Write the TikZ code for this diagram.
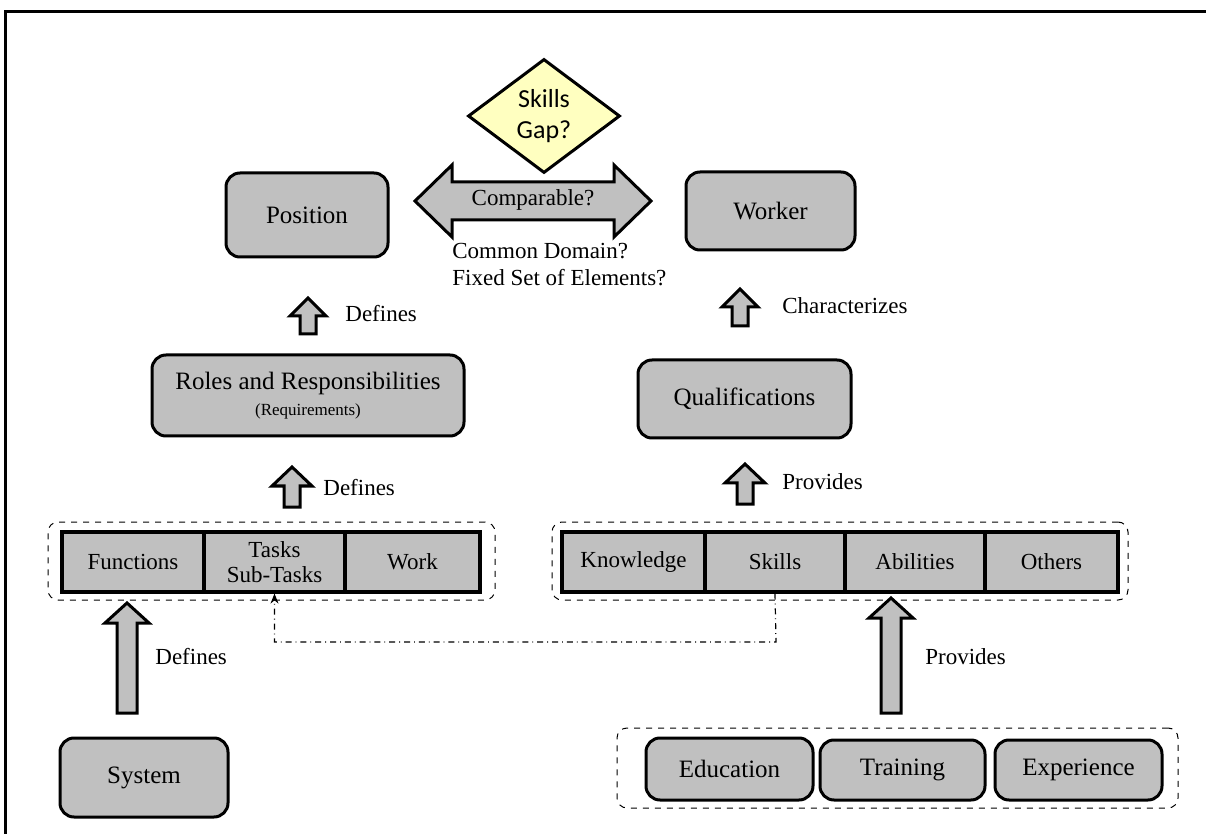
\documentclass[tikz,border=0pt]{standalone}
\usepackage{fontspec}
\setmainfont{Liberation Serif}
\newfontfamily\sansf{Carlito}
\usetikzlibrary{fit,shapes.geometric,arrows.meta}
\definecolor{boxgray}{HTML}{C0C0C0}
\definecolor{gapyellow}{HTML}{FFFFC0}
\tikzset{
  x=0.5pt, y=-0.5pt,
  blockarrow/.style={draw, fill=boxgray, line width=1.5pt, line join=miter},
  rbox/.style={draw, fill=boxgray, line width=1.5pt, rounded corners=7pt, inner sep=0pt, align=center, font=\fontsize{12.5}{15}\selectfont},
  cell/.style={draw, fill=boxgray, line width=1.6pt, inner sep=0pt, align=center, minimum height=30pt, font=\fontsize{11.5}{12.5}\selectfont},
  grp/.style={draw, dashed, line width=0.5pt, rounded corners=5pt, inner sep=0pt},
  lbl/.style={anchor=west, inner sep=0pt, font=\fontsize{11.5}{13}\selectfont},
}
\newcommand{\myuparrow}[6]{%
  \draw[blockarrow] (#1,#2) -- ({#1+#4},{#2+#6}) -- ({#1+#5},{#2+#6}) -- ({#1+#5},#3) -- ({#1-#5},#3) -- ({#1-#5},{#2+#6}) -- ({#1-#4},{#2+#6}) -- cycle;}
\begin{document}
\begin{tikzpicture}
\useasboundingbox (0,0) rectangle (1206,834);
% frame
\draw[line width=1.5pt] (5,834) -- (5,12) -- (1206,12);

% diamond
\node[diamond, draw, fill=gapyellow, line width=1.5pt, minimum width=76pt, minimum height=57pt, inner sep=0pt, align=center, font=\sansf\fontsize{13}{15.5}\selectfont] (gap) at (544,116) {Skills\\Gap?};

% top boxes
\node[rbox, minimum width=81pt, minimum height=42pt] (position) at (307,215) {Position};
\node[rbox, minimum width=84.5pt, minimum height=39pt] (worker) at (770.5,211) {Worker};

% double arrow
\draw[blockarrow] (415,201) -- (452,165) -- (452,182) -- (614,182) -- (614,165) -- (651,201) -- (614,237) -- (614,220) -- (452,220) -- (452,237) -- cycle;
\node[font=\fontsize{11.5}{13}\selectfont, inner sep=0pt] (comp) at (533,200) {Comparable?};
\node[anchor=north west, inner sep=0pt, align=left, font=\fontsize{11.5}{13.2}\selectfont] (common) at (452,243) {Common Domain?\\Fixed Set of Elements?};

% second row
\node[rbox, minimum width=156pt, minimum height=40.5pt] (roles) at (308,395.5) {Roles and Responsibilities\\[-2pt]{\fontsize{8.5}{10}\selectfont (Requirements)}};
\node[rbox, minimum width=106.5pt, minimum height=39pt] (qual) at (744.5,399) {Qualifications};

\myuparrow{308}{298}{334}{18}{8}{18}
\node[lbl] (def1) at (345,314) {Defines};
\myuparrow{740}{289}{326}{18}{8}{18}
\node[lbl] (char) at (782,306) {Characterizes};

\myuparrow{292}{467}{507}{20}{8}{19}
\node[lbl] (def2) at (323,488) {Defines};
\myuparrow{745}{464}{504}{20}{8}{19}
\node[lbl] (prov1) at (782,482) {Provides};

% left group
\node[grp, fit={(48,522)(495,600)}] (leftgrp) {};
\node[cell, minimum width=71pt] (functions) at (133,562) {Functions};
\node[cell, minimum width=70.5pt] (tasks) at (274.5,562) {Tasks\\Sub-Tasks};
\node[cell, minimum width=67.5pt] (work) at (412.5,562) {Work};

% right group
\node[grp, fit={(552,522)(1128,600)}] (rightgrp) {};
\node[cell, minimum width=71.5pt] (knowledge) at (633.5,562) {Knowledge};
\node[cell, minimum width=70pt] (skills) at (775,562) {Skills};
\node[cell, minimum width=70pt] (abilities) at (915,562) {Abilities};
\node[cell, minimum width=66.5pt] (others) at (1051.5,562) {Others};

% dash-dot connector
\coordinate (bend) at (776,642);
\draw[dash dot, line width=0.6pt, -{Stealth[length=5pt,width=4pt]}] (skills.south) -- (bend) -| (tasks.south);

% big arrows
\myuparrow{127}{603}{713}{22}{10}{20}
\node[lbl] (def3) at (155,657) {Defines};
\myuparrow{891}{598}{713}{22}{10}{20}
\node[lbl] (prov2) at (925,657) {Provides};

% bottom
\node[rbox, minimum width=84pt, minimum height=39.5pt] (system) at (144,777.5) {System};
\node[grp, fit={(617,728)(1178,808)}] (botgrp) {};
\node[rbox, minimum width=83.5pt, minimum height=31pt] (edu) at (729.5,769) {Education};
\node[rbox, minimum width=82.5pt, minimum height=30pt] (train) at (902.5,770) {Training};
\node[rbox, minimum width=83.5pt, minimum height=30pt] (exp) at (1078.5,770) {Experience};
\end{tikzpicture}
\end{document}
